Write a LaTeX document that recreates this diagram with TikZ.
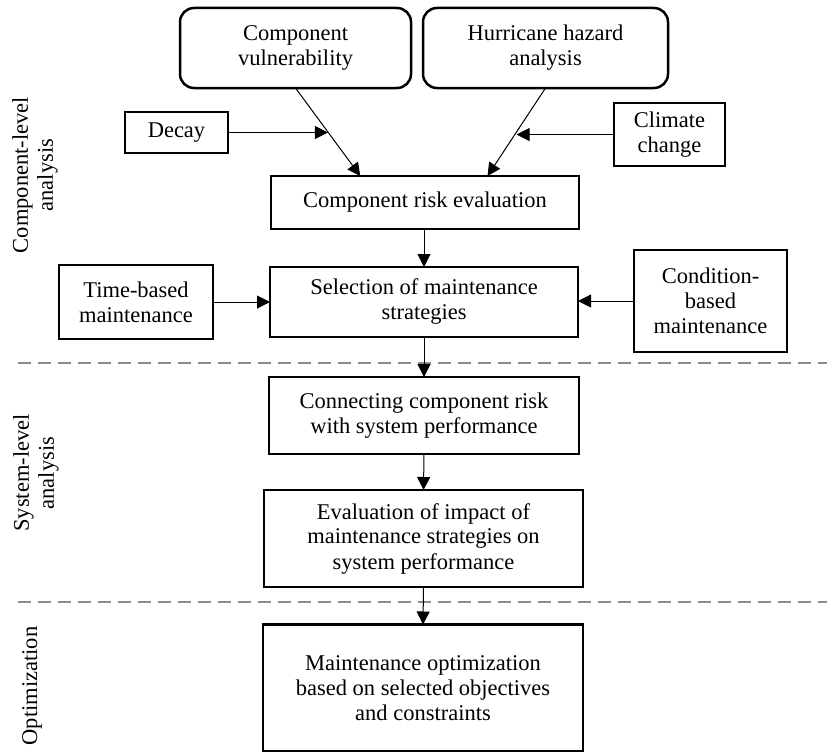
\documentclass[tikz,border=0pt]{standalone}
\usepackage{fontspec}
\setmainfont{Liberation Serif}
\usetikzlibrary{arrows.meta,calc}
\begin{document}
\begin{tikzpicture}[x=1pt,y=-1pt,
  every node/.style={font=\fontsize{22.5pt}{25pt}\selectfont},
  box/.style={draw,line width=2.5pt,inner sep=0pt,outer sep=0pt,align=center},
  rbox/.style={box,rounded corners=14pt},
  arr/.style={line width=1pt,-{Triangle[length=13pt,width=13pt]}},
  sep/.style={draw=black!45,line width=2pt,dash pattern=on 13pt off 7pt},
  lab/.style={rotate=90,align=center,inner sep=0pt}]
\useasboundingbox (0,0) rectangle (827,752);

% nodes
\node[rbox,minimum width=231pt,minimum height=80pt] (cv) at (295.5,48) {Component\\vulnerability};
\node[rbox,minimum width=245pt,minimum height=80pt] (hh) at (545.5,48) {Hurricane hazard\\analysis};
\node[box,minimum width=103pt,minimum height=41pt] (decay) at (176.5,132.5) {Decay};
\node[box,minimum width=111pt,minimum height=63pt] (climate) at (669.5,134.5) {Climate\\change};
\node[box,minimum width=308pt,minimum height=53pt] (cre) at (425,202.5) {Component risk evaluation};
\node[box,minimum width=154pt,minimum height=74pt] (tb) at (136,302) {Time-based\\maintenance};
\node[box,minimum width=308pt,minimum height=70pt] (sel) at (424,302) {Selection of maintenance\\strategies};
\node[box,minimum width=153pt,minimum height=102pt] (cb) at (710.5,301) {Condition-\\based\\maintenance};
\node[box,minimum width=310pt,minimum height=77pt] (con) at (424,415.5) {Connecting component risk\\with system performance};
\node[box,minimum width=319pt,minimum height=97pt] (eval) at (423.5,538.5) {Evaluation of impact of\\maintenance strategies on\\system performance};
\node[box,minimum width=320pt,minimum height=127pt] (opt) at (423,688) {Maintenance optimization\\based on selected objectives\\and constraints};

% side labels
\node[lab] (l1) at (35,175) {Component-level\\analysis};
\node[lab] (l2) at (36,473) {System-level\\analysis};
\node[lab] (l3) at (32,686) {Optimization};

% separators
\draw[sep] (18,363) -- (827,363);
\draw[sep] (18,602) -- (827,602);

% connectors
\coordinate (cvt) at ($(cre.north west)!0.29!(cre.north east)$);
\coordinate (hht) at ($(cre.north west)!0.703!(cre.north east)$);
\coordinate (cvm) at ($(cv.south)!0.5!(cvt)$);
\coordinate (hhm) at ($(hh.south)!0.5!(hht)$);
\draw[arr] (cv.south) -- (cvt);
\draw[arr] (hh.south) -- (hht);
\draw[arr] (decay.east) -- (decay.east -| cvm);
\draw[arr] (climate.west) -- (climate.west -| hhm);
\draw[arr] (cre.south -| sel.north) -- (sel.north);
\draw[arr] (tb.east) -- (tb.east -| sel.west);
\draw[arr] (cb.west) -- (cb.west -| sel.east);
\draw[arr] (sel.south) -- (con.north);
\draw[arr] (con.south) -- (eval.north);
\draw[arr] (eval.south) -- (opt.north);
\end{tikzpicture}
\end{document}
